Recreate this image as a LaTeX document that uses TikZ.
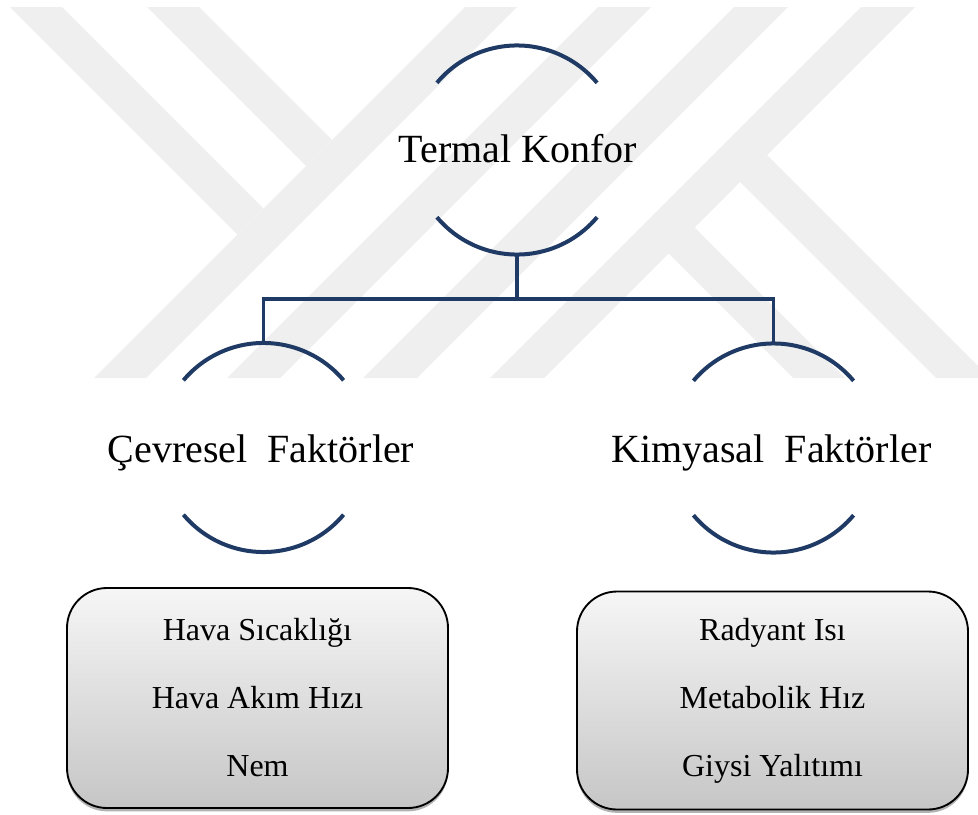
\documentclass[tikz,border=0pt]{standalone}
\usepackage[svgnames]{xcolor}
\usepackage{fontspec}
\setmainfont{Liberation Serif}
\usepackage{tikz}
\usetikzlibrary{calc,shadows}
\definecolor{wm}{RGB}{239,239,239}
\definecolor{ringblue}{RGB}{31,58,100}
\definecolor{boxtop}{RGB}{246,246,246}
\definecolor{boxbot}{RGB}{198,198,198}

\begin{document}
\begin{tikzpicture}[x=0.75pt,y=-0.75pt,
        ring/.style={draw=ringblue,line width=3pt},
        link/.style={draw=ringblue,line width=2.4pt},
        head/.style={font=\fontsize{30}{36}\selectfont,anchor=base,inner sep=0pt},
        factorbox/.style={draw=black,line width=1.4pt,rounded corners=30pt,
            top color=boxtop,bottom color=boxbot,
            drop shadow={shadow xshift=0pt,shadow yshift=-2.5pt,opacity=0.3,fill=black},
            align=center,font=\fontsize{24}{51}\selectfont}]
            \useasboundingbox (0,0) rectangle (978,814);
            \fill[wm] (465,7) -- (517,7) -- (146,378) -- (94,378) -- cycle;
            \fill[wm] (598,7) -- (651,7) -- (280,378) -- (227,378) -- cycle;
            \fill[wm] (734,7) -- (788,7) -- (417,378) -- (363,378) -- cycle;
            \fill[wm] (861,7) -- (915,7) -- (544,378) -- (490,378) -- cycle;
            \fill[wm] (10,7) -- (62,7) -- (263.5,208.5) -- (237.5,234.5) -- cycle;
            \fill[wm] (147,7) -- (199,7) -- (332,140) -- (306,166) -- cycle;
            \fill[wm] (694.5,227.5) -- (668.5,253.5) -- (793,378) -- (845,378) -- cycle;
            \fill[wm] (767,155) -- (740,182) -- (936,378) -- (978,378) -- (978,366) -- cycle;

            \node[head] (1) at (518,162) {Termal Konfor};
            \node[head] (2) at (261,462) {Çevresel~~Faktörler};
            \node[head] (3) at (771.5,462) {Kimyasal~~Faktörler};
            \foreach \cx/\cy/\n in {517/150/1, 263.5/447.5/2, 773.5/448/3} {
                \draw[ring] ($(\cx,\cy)+(140:78.4pt)$) arc[start angle=140,end angle=40,radius=78.4pt];
                \draw[ring] ($(\cx,\cy)+(220:78.4pt)$) arc[start angle=220,end angle=320,radius=78.4pt];
                \coordinate (\n t) at ($(\cx,\cy)+(0,-104.5)$);
                \coordinate (\n b) at ($(\cx,\cy)+(0,104.5)$);
            }
            \coordinate (h) at (517,299);
            \draw[link] (1b) -- (h);
            \draw[link] (2t) |- (h) -| (3t);

            \node[factorbox,minimum width=285.75pt,minimum height=165pt] (4) at (257.5,698) {Hava Sıcaklığı\\Hava Akım Hızı\\Nem};
            \node[factorbox,minimum width=293.25pt,minimum height=163.5pt] (5) at (772.5,700.5) {Radyant Isı\\Metabolik Hız\\Giysi Yalıtımı};
        \end{tikzpicture}
\end{document}
